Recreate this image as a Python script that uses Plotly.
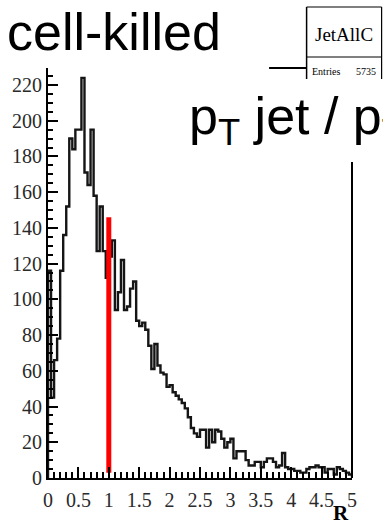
import numpy as np
import plotly.graph_objects as go

# Histogram of R = pT jet / pT true, 100 bins of width 0.05 on [0, 5]
r_min, r_max, n_bins = 0.0, 5.0, 100
counts = [
    116, 45, 66, 78, 116, 136, 152, 190, 184, 195,
    195, 224, 171, 164, 195, 158, 127, 152, 127, 112,
    124, 133, 94, 104, 122, 94, 96, 106, 110, 88,
    85, 87, 83, 74, 61, 75, 63, 59, 58, 51,
    52, 48, 46, 44, 42, 39, 34, 28, 25, 23,
    27, 27, 17, 27, 20, 27, 26, 22, 17, 20,
    22, 11, 15, 15, 15, 10, 7, 7, 9, 9,
    6, 9, 11, 11, 9, 6, 7, 14, 6, 5,
    5, 4, 4, 3, 3, 5, 6, 6, 7, 6,
    6, 3, 5, 5, 2, 6, 5, 4, 3, 2,
]
entries = 5735
hist_name = "JetAllC"

# Reference marker at R = 1
marker_r = [1.0, 1.0]
marker_y = [3, 146]

x_ticks = [0, 0.5, 1, 1.5, 2, 2.5, 3, 3.5, 4, 4.5, 5]
x_labels = ["0", "0.5", "1", "1.5", "2", "2.5", "3", "3.5", "4", "4.5", "5"]
y_ticks = list(range(0, 221, 20))
y_labels = [str(v) for v in y_ticks]

# Step outline: start at zero on the left edge, close back to zero on the right edge
edges = np.linspace(r_min, r_max, n_bins + 1)
step_x = [edges[0]] + list(edges[:-1]) + [edges[-1], edges[-1]]
step_y = [0] + list(counts) + [counts[-1], 0]

W, H = 383, 528
ML, MR, MT, MB = 44, 31, 68, 50
PW, PH = W - ML - MR, H - MT - MB


def px(xp):
    return (xp - ML) / PW


def py(yp):
    return (H - MB - yp) / PH


fig = go.Figure()
fig.add_trace(go.Scatter(
    x=step_x, y=step_y, mode="lines", line_shape="hv",
    line=dict(color="#151515", width=2.4), hoverinfo="skip", showlegend=False,
))
fig.add_trace(go.Scatter(
    x=marker_r, y=marker_y, mode="lines",
    line=dict(color="#ff0000", width=5), hoverinfo="skip", showlegend=False,
))

serif = "Liberation Serif"
sans = "Liberation Sans"

fig.update_xaxes(
    range=[r_min, r_max], showgrid=False, zeroline=False,
    showline=True, linecolor="black", linewidth=2,
    ticks="inside", ticklen=11, tickwidth=1.5, tickcolor="black",
    tickvals=x_ticks, ticktext=x_labels,
    minor=dict(ticks="inside", dtick=0.1, ticklen=6, tickwidth=1.5, tickcolor="black"),
    tickfont=dict(family=serif, size=20, color="#2a2a2a"),
    ticklabelstandoff=3,
)
fig.update_yaxes(
    range=[0, 229.5], showgrid=False, zeroline=False,
    showline=True, linecolor="black", linewidth=2,
    ticks="inside", ticklen=10, tickwidth=1.5, tickcolor="black",
    tickvals=y_ticks, ticktext=y_labels,
    minor=dict(ticks="inside", dtick=5, ticklen=5, tickwidth=1.5, tickcolor="black"),
    tickfont=dict(family=serif, size=20, color="#2a2a2a"),
)

shapes = [
    # visible pieces of the frame
    dict(type="line", xref="paper", yref="paper", x0=px(268), x1=px(306), y0=py(68), y1=py(68),
         line=dict(color="black", width=2)),
    dict(type="line", xref="paper", yref="paper", x0=1, x1=1, y0=0, y1=py(162),
         line=dict(color="black", width=2)),
    # statistics box outline
    dict(type="line", xref="paper", yref="paper", x0=px(306), x1=px(382), y0=py(7), y1=py(7),
         line=dict(color="black", width=1.2)),
    dict(type="line", xref="paper", yref="paper", x0=px(306), x1=px(306), y0=py(7), y1=py(79),
         line=dict(color="black", width=1.5)),
    dict(type="line", xref="paper", yref="paper", x0=px(382), x1=px(382), y0=py(7), y1=py(79),
         line=dict(color="black", width=1.2)),
    dict(type="line", xref="paper", yref="paper", x0=px(306), x1=px(382), y0=py(57), y1=py(57),
         line=dict(color="black", width=1)),
]

annotations = [
    dict(text="cell-killed", xref="paper", yref="paper", x=px(0), y=py(63),
         xanchor="left", yanchor="bottom", showarrow=False,
         font=dict(family=sans, size=52, color="black")),
    dict(text="p<sub>T</sub> jet / p<sub>T</sub> true", xref="paper", yref="paper",
         x=px(185), y=py(155), xanchor="left", yanchor="bottom", showarrow=False,
         bgcolor="white",
         font=dict(family=sans, size=52, color="black")),
    dict(text=hist_name, xref="paper", yref="paper", x=px(344), y=py(35),
         xanchor="center", yanchor="middle", showarrow=False,
         font=dict(family=serif, size=19, color="black")),
    dict(text="Entries", xref="paper", yref="paper", x=px(309), y=py(71),
         xanchor="left", yanchor="middle", showarrow=False,
         font=dict(family=serif, size=10, color="black")),
    dict(text=str(entries), xref="paper", yref="paper", x=px(378), y=py(71),
         xanchor="right", yanchor="middle", showarrow=False,
         font=dict(family=serif, size=10, color="black")),
    dict(text="<b>R</b>", xref="paper", yref="paper", x=px(351), y=py(527),
         xanchor="right", yanchor="bottom", showarrow=False,
         font=dict(family=serif, size=21, color="black")),
]

fig.update_layout(
    width=W, height=H,
    margin=dict(l=ML, r=MR, t=MT, b=MB),
    paper_bgcolor="white", plot_bgcolor="white",
    shapes=shapes, annotations=annotations,
    showlegend=False,
)

fig.write_html("out.html", config={"displayModeBar": False})
